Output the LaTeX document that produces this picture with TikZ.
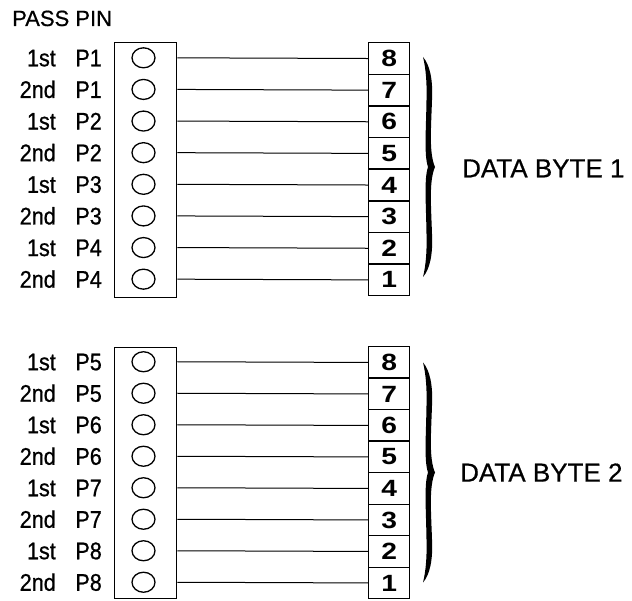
\documentclass[tikz,border=0pt]{standalone}
\usepackage{fontspec}
\setmainfont{Liberation Sans}[FakeBold=0.6]
\newfontfamily\condfont[FakeStretch=0.9,FakeBold=0.8]{Liberation Sans}
\newfontfamily\digfont[FakeStretch=1.2]{Liberation Sans Bold}
\usetikzlibrary{shapes.geometric}
\begin{document}
\begin{tikzpicture}[x=1pt,y=-1pt,
  pinbox/.style={draw,line width=1.4pt,minimum width=62pt,inner sep=0,anchor=north west},
  hole/.style={draw,ellipse,line width=1.3pt,minimum width=23pt,minimum height=20pt,inner sep=0},
  numbox/.style={draw,line width=1.4pt,minimum width=41pt,inner sep=0,anchor=north west,font=\digfont\fontsize{23.5}{23.5}\selectfont},
  lbl/.style={inner sep=0,anchor=base east,font=\condfont\fontsize{24}{24}\selectfont},
  wire/.style={line width=1pt},
  title/.style={inner sep=0,anchor=base west,font=\fontsize{22}{22}\selectfont},
  bytelbl/.style={inner sep=0,anchor=base west,font=\fontsize{26}{26}\selectfont},
  curly/.pic={\fill (3,-110) .. controls (10,-102) and (13,-87) .. (12,-67)
      .. controls (11,-37) and (9,-14) .. (15,0)
      .. controls (9,14) and (11,37) .. (12,67)
      .. controls (13,87) and (10,102) .. (3,110)
      .. controls (6,98) and (7,83) .. (6.5,67)
      .. controls (6,35) and (4,12) .. (8,0)
      .. controls (4,-12) and (6,-35) .. (6.5,-67)
      .. controls (7,-83) and (6,-98) .. (3,-110) -- cycle;}]
\useasboundingbox (0,0) rectangle (632,601);
\node[title] (pass) at (12,26) {PASS PIN};
% upper group
\node[pinbox,minimum height=255pt] (pbA) at (114,42) {};
\foreach \i in {1,...,8} {
  \pgfmathsetmacro\yy{42+31.625*(\i-0.5)}
  \pgfmathsetmacro\yt{42+31.625*(\i-1)}
  \pgfmathtruncatemacro\d{9-\i}
  \pgfmathtruncatemacro\p{(\i+1)/2}
  \node[hole] (hA\i) at (143.5,\yy) {};
  \node[numbox,minimum height=31.625pt] (nA\i) at (368,\yt) {\d};
  \draw[wire] (pbA.east |- hA\i) -- (nA\i.west);
  \node[lbl] (oA\i) at (56,\yy+8.5) {\ifodd\i\relax 1st\else 2nd\fi};
  \node[lbl] (pA\i) at (102,\yy+8.5) {P\p};
}
\pic (brA) at (420,167) {curly};
\node[bytelbl] (dbA) at (462,177.3) {DATA BYTE 1};
% lower group
\node[pinbox,minimum height=251pt] (pbB) at (114,347) {};
\foreach \i in {1,...,8} {
  \pgfmathsetmacro\yy{346+31.5*(\i-0.5)}
  \pgfmathsetmacro\yt{346+31.5*(\i-1)}
  \pgfmathtruncatemacro\d{9-\i}
  \pgfmathtruncatemacro\p{(\i+1)/2+4}
  \node[hole] (hB\i) at (143.5,\yy) {};
  \node[numbox,minimum height=31.5pt] (nB\i) at (368,\yt) {\d};
  \draw[wire] (pbB.east |- hB\i) -- (nB\i.west);
  \node[lbl] (oB\i) at (56,\yy+8.5) {\ifodd\i\relax 1st\else 2nd\fi};
  \node[lbl] (pB\i) at (102,\yy+8.5) {P\p};
}
\pic (brB) at (420,472.5) {curly};
\node[bytelbl] (dbB) at (460,481.6) {DATA BYTE 2};
\end{tikzpicture}
\end{document}
